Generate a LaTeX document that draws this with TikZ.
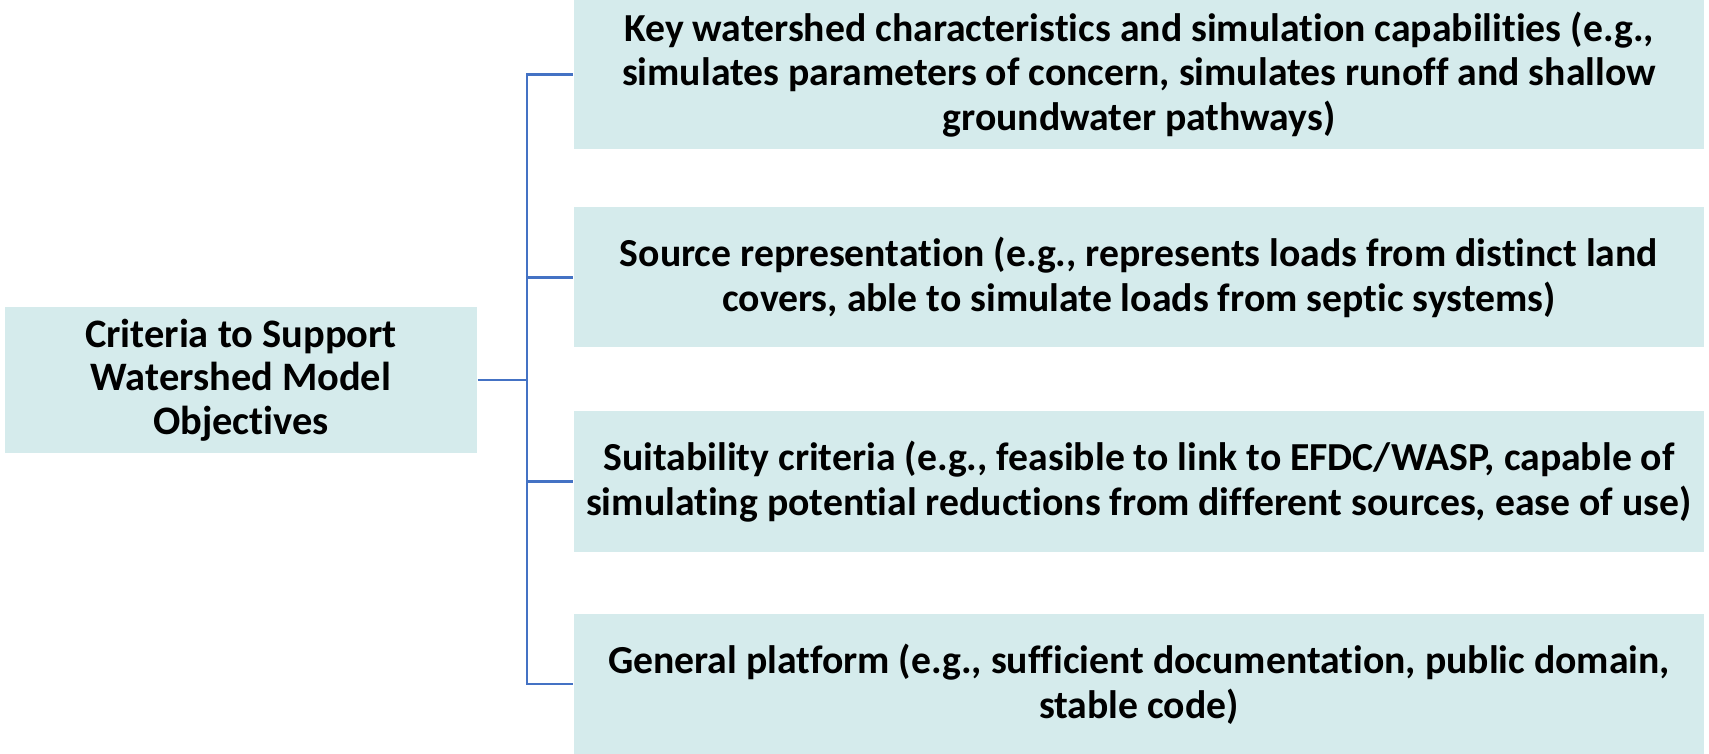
\documentclass[tikz,border=0pt]{standalone}
\usepackage{fontspec}
\setmainfont{Carlito}[Ligatures=NoCommon]
\definecolor{boxfill}{RGB}{213,235,236}
\definecolor{linkblue}{RGB}{68,114,196}
\begin{document}
\begin{tikzpicture}[
    crit/.style={fill=boxfill, minimum width=4.72cm, minimum height=1.40cm, align=center, font=\bfseries\fontsize{11.5}{12.4}\selectfont},
    item/.style={fill=boxfill, minimum width=11.30cm, minimum height=1.40cm, align=center, font=\bfseries\fontsize{11.3}{12.7}\selectfont},
    link/.style={draw=linkblue, line width=0.6pt}]
    \useasboundingbox (0,0) rectangle (17.09,-7.54);

    \node [crit] (criteria) at (2.41,-3.80) {Criteria to Support\\Watershed Model\\Objectives};

    \node [item] (key) at (11.39,-0.745) {Key watershed characteristics and simulation capabilities (e.g.,\\simulates parameters of concern, simulates runoff and shallow\\groundwater pathways)};
    \node [item] (source) at (11.39,-2.775) {Source representation (e.g., represents loads from distinct land\\covers, able to simulate loads from septic systems)};
    \node [item] (suit) at (11.39,-4.815) {Suitability criteria (e.g., feasible to link to EFDC/WASP, capable of\\simulating potential reductions from different sources, ease of use)};
    \node [item] (general) at (11.39,-6.84) {General platform (e.g., sufficient documentation, public domain,\\stable code)};

    \coordinate (trunk) at (5.27,-3.80);
    \draw [link] (criteria.east) -- (trunk);
    \foreach \b in {key, source, suit, general}
        \draw [link] (trunk) |- (\b.west);

\end{tikzpicture}
\end{document}
